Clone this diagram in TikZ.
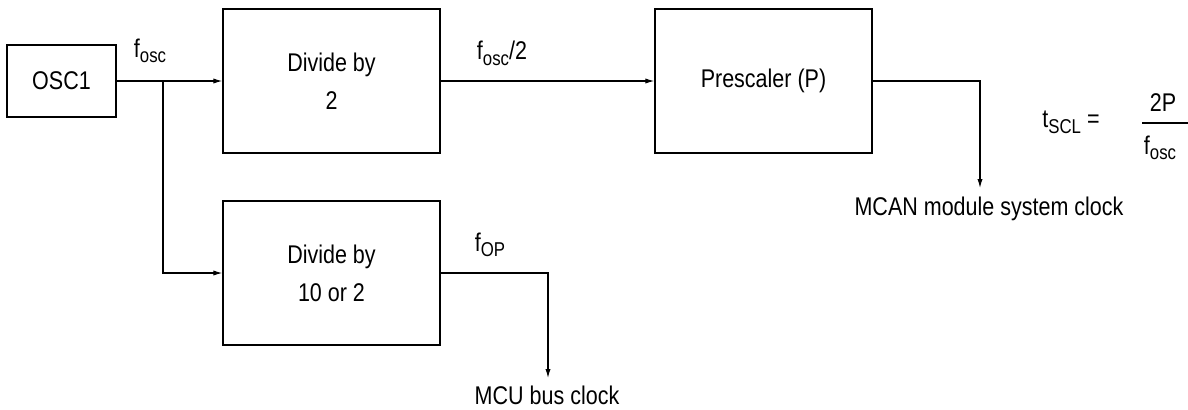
\documentclass[tikz,border=0pt]{standalone}
\usepackage{fontspec}
\setmainfont{Liberation Sans}[FakeStretch=0.84]
\usetikzlibrary{arrows.meta,positioning}
\newcommand{\lo}[1]{\raisebox{-0.22em}{\fontsize{10pt}{10pt}\selectfont #1}}

\begin{document}
\begin{tikzpicture}[x=0.5pt,y=-0.5pt,line width=0.55pt,
  >={Latex[length=4.5pt,width=2.6pt]},
  every node/.style={font=\fontsize{12.8pt}{19pt}\selectfont},
  block/.style={draw,line width=0.65pt,minimum width=108.5pt,minimum height=72pt,align=center,inner sep=0pt},
  lbl/.style={inner sep=0pt}]
\useasboundingbox (0,0) rectangle (1188,409);
\node[block,minimum width=54.5pt,minimum height=36pt] (osc1) at (61.5,81) {OSC1};
\node[block] (div2)  at (331.5,81) {Divide by\\2};
\node[block] (pre)   at (763.5,81) {Prescaler (P)};
\node[block] (div10) at (331.5,273) {Divide by\\10 or 2};

\node[lbl] (fosc)  at (150,51)  {f\lo{osc}};
\node[lbl] (fosc2) at (502,53)  {f\lo{osc}/2};
\node[lbl] (fop)   at (490,245) {f\lo{OP}};
\node[lbl] (mcan)  at (989,209) {MCAN module system clock};
\node[lbl] (mcu)   at (547,395) {MCU bus clock};

\node[lbl] (tscl)  at (1071,122) {t\lo{SCL} =};
\node[lbl] (twop)  at (1163,103) {2P};
\node[lbl] (foscb) at (1160,148) {f\lo{osc}};
\draw (1142,123) -- (1188,123);

\coordinate (split)  at (163,81);
\coordinate (mcanin) at (980,188);
\coordinate (mcuin)  at (548,378);

\draw[->] (osc1) -- (div2);
\draw[->] (split) |- (div10.west);
\draw[->] (div2) -- (pre);
\draw[->] (pre.east) -| (mcanin);
\draw[->] (div10.east) -| (mcuin);
\end{tikzpicture}
\end{document}
